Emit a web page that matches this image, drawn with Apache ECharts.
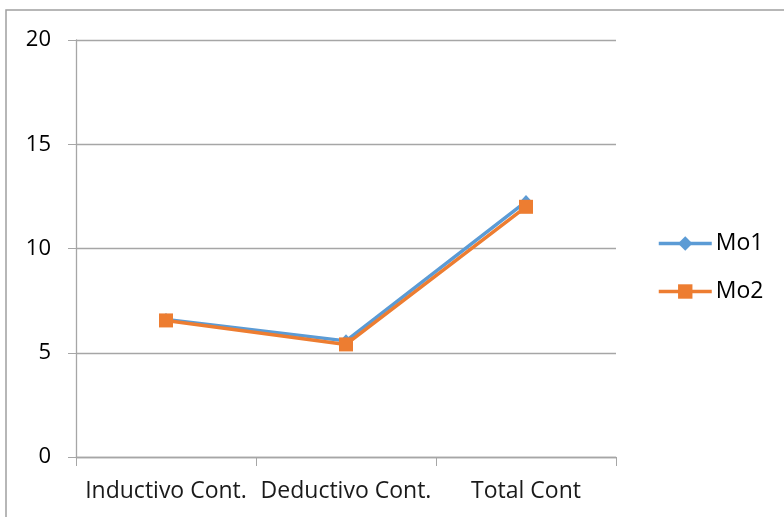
<!DOCTYPE html>
<html>
<head>
<meta charset="utf-8">
<script src="https://cdn.jsdelivr.net/npm/echarts@6/dist/echarts.min.js"></script>
<style>
  html, body { margin: 0; padding: 0; background: #fff; }
  #chart { width: 784px; height: 517px; }
</style>
</head>
<body>
<div id="chart"></div>
<script>
// Categories and series values
const categories = ['Inductivo Cont.', 'Deductivo Cont.', 'Total Cont'];
const mo1 = [6.6, 5.57, 12.25];
const mo2 = [6.55, 5.4, 12.0];
const yTicks = { min: 0, max: 20, interval: 5 };

const chart = echarts.init(document.getElementById('chart'), null, { renderer: 'canvas' });
const fontFamily = '"Open Sans", "Noto Sans", sans-serif';
const gray = '#a6a6a6';

chart.setOption({
  animation: false,
  textStyle: { fontFamily },
  graphic: [{
    type: 'rect',
    shape: { x: 6, y: 10, width: 800, height: 540 },
    style: { fill: 'none', stroke: '#a0a0a0', lineWidth: 1.5 },
    silent: true
  }],
  grid: { left: 76, right: 168, top: 40, bottom: 60 },
  legend: {
    orient: 'vertical',
    left: 657,
    top: 232,
    padding: 0,
    itemWidth: 53,
    itemHeight: 18,
    itemGap: 25,
    lineStyle: { width: 3.5 },
    textStyle: { fontSize: 23, color: '#000', fontFamily, padding: [0, 0, 0, -1] },
    data: ['Mo1', 'Mo2']
  },
  xAxis: {
    type: 'category',
    data: categories,
    boundaryGap: true,
    axisLine: { lineStyle: { color: gray, width: 1.3 } },
    axisTick: { show: true, length: 9, lineStyle: { color: gray } },
    axisLabel: { fontSize: 23, color: '#1a1a1a', margin: 23, interval: 0 }
  },
  yAxis: {
    type: 'value',
    min: yTicks.min,
    max: yTicks.max,
    interval: yTicks.interval,
    axisLine: { show: true, lineStyle: { color: gray, width: 1.3 } },
    axisTick: { show: true, length: 8, lineStyle: { color: gray } },
    axisLabel: { fontSize: 22, color: '#000', margin: 25 },
    splitLine: { lineStyle: { color: gray, width: 1.3 } }
  },
  series: [
    {
      name: 'Mo1',
      type: 'line',
      data: mo1,
      symbol: 'diamond',
      symbolSize: [12, 13],
      itemStyle: { color: '#5b9bd5' },
      lineStyle: { color: '#5b9bd5', width: 3.5 }
    },
    {
      name: 'Mo2',
      type: 'line',
      data: mo2,
      symbol: 'rect',
      symbolSize: 14,
      itemStyle: { color: '#ed7d31' },
      lineStyle: { color: '#ed7d31', width: 3.5 }
    }
  ]
});
</script>
</body>
</html>
